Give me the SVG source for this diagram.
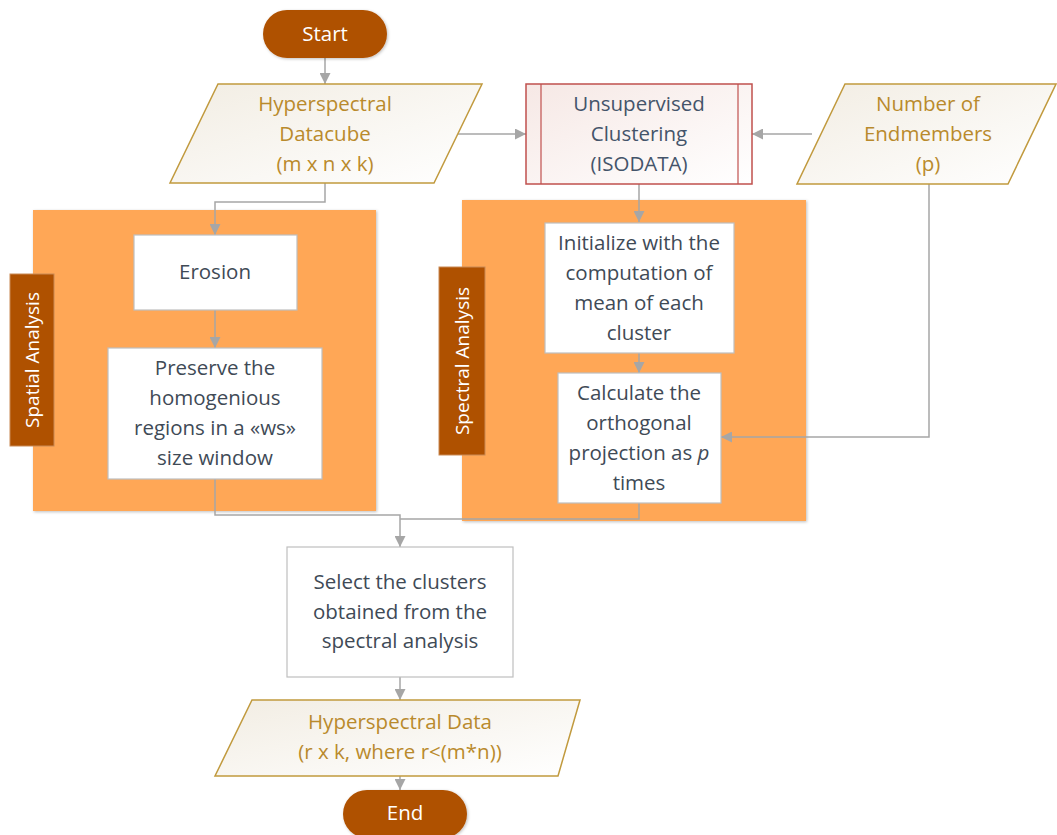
<svg xmlns="http://www.w3.org/2000/svg" width="1057" height="835" viewBox="0 0 1057 835">
<defs>
<linearGradient id="gBeige" x1="0" y1="0" x2="1" y2="1"><stop offset="0" stop-color="#F2EDE3"/><stop offset="1" stop-color="#FFFFFF"/></linearGradient>
<linearGradient id="gPink" x1="0" y1="0" x2="1" y2="1"><stop offset="0" stop-color="#F6E8E5"/><stop offset="1" stop-color="#FFFFFF"/></linearGradient>
<marker id="arr" viewBox="0 0 10 10" refX="10" refY="5" markerWidth="11" markerHeight="11" markerUnits="userSpaceOnUse" orient="auto"><path d="M0,0 L10,5 L0,10 z" fill="#A6A6A6"/></marker>
<filter id="sh" x="-10%" y="-10%" width="120%" height="120%"><feDropShadow dx="1" dy="1" stdDeviation="1.5" flood-color="#000" flood-opacity="0.25"/></filter>
</defs>
<style>
text{font-family:"Open Sans","Noto Sans","Liberation Sans",sans-serif;font-size:20.5px;text-anchor:middle}
.term{fill:#AF5100}
.termt{fill:#FFFFFF}
.io{fill:url(#gBeige);stroke:#C19A3E;stroke-width:1.5}
.iot{fill:#B98A2C}
.proc{fill:#FFFFFF;stroke:#BFBFBF;stroke-width:1.2}
.pt{fill:#404A56}
.panel{fill:#FFA756}
.lab{fill:#AF5100;stroke:#C98A55;stroke-width:1}
.labt{fill:#FFFFFF;font-size:19px}
.con{fill:none;stroke:#A6A6A6;stroke-width:1.5}
</style>

<g id="spatial-panel">
<rect class="panel" x="33" y="210" width="343" height="301" filter="url(#sh)"/>
<rect class="lab" x="10" y="274" width="44" height="172"/>
<text class="labt" transform="translate(39,360) rotate(-90)">Spatial Analysis</text>
</g>
<g id="spectral-panel">
<rect class="panel" x="462" y="200" width="344" height="321" filter="url(#sh)"/>
<rect class="lab" x="439" y="267" width="46" height="188"/>
<text class="labt" transform="translate(469,361) rotate(-90)">Spectral Analysis</text>
</g>

<g id="connectors">
<path class="con" d="M325,58 V84" marker-end="url(#arr)"/>
<path class="con" d="M458,134 H526" marker-end="url(#arr)"/>
<path class="con" d="M812,134 H752" marker-end="url(#arr)"/>
<path class="con" d="M929,184 V437 H721" marker-end="url(#arr)"/>
<path class="con" d="M639,184 V222" marker-end="url(#arr)"/>
<path class="con" d="M325,183 V202 H215 V235" marker-end="url(#arr)"/>
<path class="con" d="M215,310 V348" marker-end="url(#arr)"/>
<path class="con" d="M639,353 V373" marker-end="url(#arr)"/>
<path class="con" d="M215,479 V515 H400 V547" marker-end="url(#arr)"/>
<path class="con" d="M639,503 V519 H400"/>
<path class="con" d="M400,677 V700" marker-end="url(#arr)"/>
<path class="con" d="M400,776 V790" marker-end="url(#arr)"/>
</g>

<g id="start">
<rect class="term" x="263" y="10" width="124" height="48" rx="24" filter="url(#sh)"/>
<text class="termt" x="325" y="41">Start</text>
</g>

<g id="datacube">
<polygon class="io" points="218,84 482,84 434,183 170,183"/>
<text class="iot" x="325" y="111">Hyperspectral</text>
<text class="iot" x="325" y="141">Datacube</text>
<text class="iot" x="325" y="171">(m x n x k)</text>
</g>

<g id="isodata">
<rect x="526" y="84" width="226" height="100" fill="url(#gPink)" stroke="#C0504D" stroke-width="1.5"/>
<line x1="541" y1="84" x2="541" y2="184" stroke="#C0504D" stroke-width="1.2"/>
<line x1="738" y1="84" x2="738" y2="184" stroke="#C0504D" stroke-width="1.2"/>
<text x="639" y="111" fill="#44546A">Unsupervised</text>
<text x="639" y="141" fill="#44546A">Clustering</text>
<text x="639" y="171" fill="#44546A">(ISODATA)</text>
</g>

<g id="endmembers">
<polygon class="io" points="845,84 1056,84 1008,184 797,184"/>
<text class="iot" x="928" y="111">Number of</text>
<text class="iot" x="928" y="141">Endmembers</text>
<text class="iot" x="928" y="171">(p)</text>
</g>

<g id="erosion">
<rect class="proc" x="134" y="235" width="163" height="75"/>
<text class="pt" x="215" y="279">Erosion</text>
</g>

<g id="preserve">
<rect class="proc" x="108" y="348" width="214" height="131"/>
<text class="pt" x="215" y="375">Preserve the</text>
<text class="pt" x="215" y="405">homogenious</text>
<text class="pt" x="215" y="435">regions in a «ws»</text>
<text class="pt" x="215" y="465">size window</text>
</g>

<g id="initialize">
<rect class="proc" x="545" y="223" width="189" height="130"/>
<text class="pt" x="639" y="250">Initialize with the</text>
<text class="pt" x="639" y="280">computation of</text>
<text class="pt" x="639" y="310">mean of each</text>
<text class="pt" x="639" y="340">cluster</text>
</g>

<g id="calculate">
<rect class="proc" x="558" y="373" width="163" height="130"/>
<text class="pt" x="639" y="400">Calculate the</text>
<text class="pt" x="639" y="430">orthogonal</text>
<text class="pt" x="639" y="460">projection as <tspan font-style="italic">p</tspan></text>
<text class="pt" x="639" y="490">times</text>
</g>

<g id="select">
<rect class="proc" x="287" y="547" width="226" height="130"/>
<text class="pt" x="400" y="589">Select the clusters</text>
<text class="pt" x="400" y="619">obtained from the</text>
<text class="pt" x="400" y="648">spectral analysis</text>
</g>

<g id="hsdata">
<polygon class="io" points="252,700 580,700 558,776 215,776"/>
<text class="iot" x="400" y="729">Hyperspectral Data</text>
<text class="iot" x="400" y="759">(r x k, where r&lt;(m*n))</text>
</g>

<g id="end">
<rect class="term" x="343" y="790" width="124" height="48" rx="24" filter="url(#sh)"/>
<text class="termt" x="405" y="820">End</text>
</g>
</svg>
